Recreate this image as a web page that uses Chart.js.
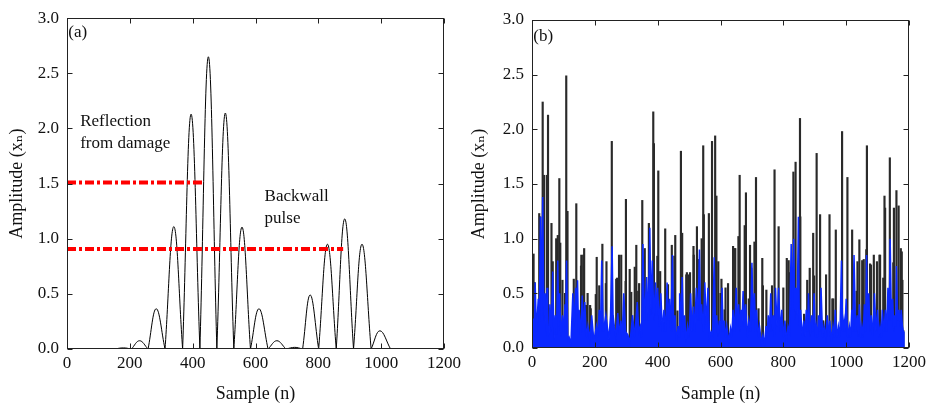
<!DOCTYPE html>
<html>
<head>
<meta charset="utf-8">
<script src="https://cdn.jsdelivr.net/npm/chart.js@4.4.1/dist/chart.umd.min.js"></script>
<style>
html, body { margin: 0; padding: 0; background: #fff; }
#wrap { position: relative; width: 930px; height: 405px; }
.panel { position: absolute; top: 0; width: 465px; height: 405px; }
#pa { left: 0; }
#pb { left: 465px; }
</style>
</head>
<body>
<div id="wrap">
  <div class="panel" id="pa"><canvas id="chartA" width="465" height="405"></canvas></div>
  <div class="panel" id="pb"><canvas id="chartB" width="465" height="405"></canvas></div>
</div>
<script>
// --- PANEL (a): pulse echo, one lobe per peak, zero crossings between ---
const pulseZeroX = [150, 205, 258, 312, 368, 423, 477, 531, 584, 640, 697, 750, 801, 857, 912, 968, 1030];
const pulsePeakX = [180, 231, 284, 340, 395, 450, 504, 557, 611, 668, 725, 774, 829, 884, 939, 996];
const pulsePeakY = [0.01, 0.075, 0.365, 1.11, 2.13, 2.65, 2.14, 1.105, 0.365, 0.075, 0.015, 0.49, 0.95, 1.18, 0.95, 0.165];

// red threshold lines (level, end sample)
const damageLine = { y: 1.51, xEnd: 431 };
const backwallLine = { y: 0.907, xEnd: 879 };

// --- PANEL (b): spikes (black) and filtered signal (blue) ---
const spikeX = [5, 8, 23, 26, 34, 39, 48, 51, 62, 66, 82, 87, 97, 105, 109, 113, 141, 157, 166, 177,
  187, 206, 224, 235, 254, 271, 277, 284, 299, 316, 327, 341, 351, 372, 386, 388, 402, 408, 424, 445,
  456, 474, 478, 491, 499, 514, 525, 545, 547, 563, 573, 583, 587, 600, 613, 624, 640, 645, 657, 661,
  681, 694, 713, 733, 746, 772, 785, 817, 832, 839, 853, 854, 876, 895, 906, 917, 936, 947, 959, 967,
  987, 1004, 1019, 1036, 1051, 1066, 1076, 1088, 1106, 1122, 1124, 1139, 1152, 1160, 1167, 1174, 1179, 1182,
  77, 90, 133, 156, 163, 172, 185, 203, 214, 237, 268, 298, 311, 332, 338, 359, 382, 399, 433, 453,
  463, 493, 503, 515, 528, 540, 593, 603, 616, 647, 677, 690, 698, 708, 721, 735, 764, 800, 811, 819,
  866, 884, 898, 927, 956, 1033, 1042, 1056, 1064, 1079, 1098, 1108, 1118, 1150, 1177];
const spikeY = [0.86, 0.6, 1.23, 1.2, 2.25, 1.58, 1.58, 2.13, 1.14, 0.79, 1.03, 1.55, 0.62, 0.5, 2.49, 1.25, 1.32, 0.85, 0.91, 0.5,
  0.36, 0.83, 0.95, 0.59, 1.89, 0.64, 0.85, 0.85, 1.36, 0.51, 0.74, 0.59, 1.35, 1.14, 2.16, 1.87, 1.62, 0.7, 1.09, 0.94,
  1.03, 1.8, 1.05, 0.67, 0.67, 0.93, 1.11, 1.85, 1.22, 1.23, 1.89, 1.94, 1.39, 0.5, 0.35, 0.59, 0.93, 0.91, 1.02, 1.58,
  1.42, 0.94, 1.56, 0.82, 0.53, 1.63, 1.11, 0.8, 1.61, 1.7, 2.1, 1.2, 0.62, 1.05, 1.78, 1.22, 0.67, 1.22, 0.45, 1.08,
  1.98, 1.56, 1.08, 0.79, 0.8, 1.85, 0.77, 0.85, 0.85, 1.39, 1.28, 1.74, 1.28, 1.44, 1.3, 0.91, 0.62, 0.16,
  1.0, 0.96, 0.63, 0.75, 0.85, 0.39, 0.39, 0.49, 0.57, 0.79, 0.63, 0.61, 0.72, 0.94, 0.52, 0.91, 0.64, 0.84, 0.58, 0.84,
  0.34, 0.69, 0.69, 0.85, 0.81, 1.0, 0.79, 0.63, 0.55, 0.91, 1.12, 0.45, 0.73, 0.97, 0.36, 0.57, 0.57, 0.55, 0.82, 0.69,
  0.31, 0.73, 0.66, 0.25, 0.45, 0.52, 0.99, 0.81, 0.9, 0.76, 0.79, 0.85, 0.64, 0.78, 0.88];

const filteredX = [0, 5, 7, 10, 14, 20, 23, 27, 30, 34, 38, 42, 45, 48, 50, 52, 54, 57, 61, 66, 70, 74, 78, 82, 85, 88, 92, 97, 101, 105,
  107, 110, 114, 118, 124, 130, 134, 139, 142, 145, 148, 150, 155, 160, 164, 168, 173, 178, 184, 190, 197, 205, 209, 214, 218, 222, 227, 235, 245, 250,
  255, 258, 262, 267, 273, 278, 283, 287, 292, 298, 305, 312, 320, 327, 335, 340, 345, 349, 353, 358, 365, 370, 375, 379, 383, 388, 393, 396, 400, 405,
  410, 415, 420, 425, 430, 434, 438, 442, 447, 451, 455, 460, 465, 468, 470, 474, 478, 482, 486, 490, 495, 500, 505, 509, 514, 518, 523, 528, 533, 537,
  540, 545, 550, 555, 560, 565, 570, 575, 580, 584, 588, 592, 596, 600, 605, 608, 612, 616, 620, 626, 632, 636, 640, 645, 650, 654, 658, 662, 665, 668,
  672, 676, 680, 685, 690, 695, 700, 704, 708, 712, 715, 720, 724, 730, 735, 740, 745, 748, 752, 756, 760, 764, 768, 772, 775, 780, 785, 790, 795, 800,
  805, 810, 815, 820, 825, 829, 833, 837, 840, 844, 848, 851, 855, 860, 865, 869, 873, 877, 880, 885, 890, 894, 898, 902, 905, 909, 912, 916, 920, 925,
  930, 935, 940, 944, 948, 953, 958, 962, 965, 970, 975, 980, 985, 989, 993, 996, 1000, 1005, 1010, 1014, 1018, 1021, 1025, 1030, 1035, 1038, 1042, 1046, 1050, 1054,
  1058, 1062, 1065, 1068, 1072, 1076, 1080, 1085, 1090, 1095, 1100, 1104, 1108, 1112, 1115, 1120, 1125, 1129, 1133, 1137, 1140, 1144, 1148, 1152, 1155, 1158, 1160, 1164, 1168, 1172,
  1175, 1179, 1182, 1184];
const filteredY = [0.15, 0.27, 0.1, 0.6, 0.15, 0.45, 0.2, 1.2, 0.3, 1.38, 0.25, 0.5, 0.15, 0.55, 0.1, 0.2, 0.12, 0.4, 0.15, 0.7, 0.08, 0.3, 0.12, 0.8, 0.2, 0.5, 0.1, 0.3, 0.15, 0.4,
  0.2, 0.8, 0.08, 0.1, 0.04, 0.5, 0.2, 0.55, 0.3, 0.62, 0.15, 0.35, 0.12, 0.48, 0.15, 0.42, 0.1, 0.2, 0.08, 0.3, 0.06, 0.2, 0.1, 0.35, 0.15, 0.8, 0.15, 0.3, 0.08, 0.3,
  0.93, 0.3, 0.2, 0.1, 0.32, 0.12, 0.25, 0.08, 0.5, 0.15, 0.12, 0.05, 0.3, 0.1, 0.42, 0.15, 0.2, 0.1, 0.95, 0.25, 0.65, 0.25, 1.1, 0.3, 0.8, 0.25, 0.6, 0.3, 0.55, 0.2,
  0.5, 0.15, 0.35, 0.15, 0.6, 0.25, 0.45, 0.15, 0.85, 0.15, 0.3, 0.06, 0.2, 0.1, 0.5, 0.2, 0.65, 0.15, 0.3, 0.05, 0.2, 0.1, 0.5, 0.15, 0.38, 0.15, 0.55, 0.25, 0.9, 0.25,
  0.4, 0.15, 0.6, 0.2, 0.55, 0.1, 0.15, 0.12, 0.83, 0.2, 0.3, 0.1, 0.25, 0.15, 0.55, 0.15, 0.25, 0.1, 0.2, 0.06, 0.18, 0.1, 0.35, 0.15, 0.55, 0.2, 0.4, 0.15, 0.35, 0.2,
  0.52, 0.2, 0.4, 0.1, 0.25, 0.15, 0.78, 0.25, 0.5, 0.15, 0.35, 0.1, 0.2, 0.05, 0.12, 0.04, 0.2, 0.1, 0.3, 0.15, 0.5, 0.15, 0.3, 0.1, 0.55, 0.2, 0.55, 0.15, 0.35, 0.1,
  0.25, 0.06, 0.2, 0.15, 0.95, 0.35, 1.0, 0.25, 0.55, 0.3, 1.2, 0.2, 0.35, 0.1, 0.25, 0.1, 0.35, 0.15, 0.5, 0.1, 0.3, 0.15, 0.5, 0.1, 0.2, 0.1, 0.3, 0.15, 0.55, 0.1,
  0.2, 0.1, 0.3, 0.1, 0.25, 0.06, 0.2, 0.1, 0.35, 0.1, 0.2, 0.1, 0.8, 0.15, 0.25, 0.15, 0.45, 0.1, 0.2, 0.1, 0.35, 0.15, 0.85, 0.15, 0.3, 0.1, 0.4, 0.1, 0.2, 0.1,
  0.4, 0.15, 0.85, 0.25, 0.5, 0.15, 0.3, 0.1, 0.5, 0.15, 0.35, 0.1, 0.2, 0.1, 0.35, 0.15, 0.35, 0.15, 0.55, 0.25, 1.0, 0.25, 0.45, 0.15, 0.3, 0.2, 0.75, 0.25, 0.35, 0.2,
  0.35, 0.2, 0.15, 0];

const xTicks = [0, 200, 400, 600, 800, 1000, 1200];
const yTicks = [0, 0.5, 1.0, 1.5, 2.0, 2.5, 3.0];

// --- STYLE ---
const serif = '"Liberation Serif", "DejaVu Serif", "Times New Roman", serif';
const ink = '#111';
Chart.defaults.font.family = serif;
Chart.defaults.font.size = 17;
Chart.defaults.color = ink;
Chart.defaults.animation = false;

// build the (a) curve: lobes separated by gaps so the zero crossings stay sharp
function buildPulse() {
  const pts = [{x: 0, y: 0}, {x: pulseZeroX[0], y: 0}];
  for (let i = 0; i < pulsePeakX.length; i++) {
    pts.push({x: pulseZeroX[i], y: null});
    pts.push({x: pulseZeroX[i], y: 0});
    pts.push({x: pulsePeakX[i], y: pulsePeakY[i]});
    pts.push({x: pulseZeroX[i + 1], y: 0});
  }
  const last = pulseZeroX[pulseZeroX.length - 1];
  pts.push({x: last, y: null}, {x: last, y: 0}, {x: 1200, y: 0});
  return pts;
}

// boxed frame with inward ticks on all four sides
const framePlugin = {
  id: 'frame',
  afterDatasetsDraw(chart) {
    const {ctx, chartArea: a, scales: {x, y}} = chart;
    const L = Math.round(a.left) + 0.5, R = Math.round(a.right) - 0.5;
    const T = Math.round(a.top) + 0.5, B = Math.round(a.bottom) - 0.5;
    const len = 5;
    ctx.save();
    ctx.strokeStyle = '#222';
    ctx.lineWidth = 1;
    ctx.strokeRect(L, T, R - L, B - T);
    ctx.beginPath();
    xTicks.forEach(v => {
      const px = Math.round(x.getPixelForValue(v)) + 0.5;
      ctx.moveTo(px, B); ctx.lineTo(px, B - len);
      ctx.moveTo(px, T); ctx.lineTo(px, T + len);
    });
    yTicks.forEach(v => {
      const py = Math.round(y.getPixelForValue(v)) + 0.5;
      ctx.moveTo(L, py); ctx.lineTo(L + len, py);
      ctx.moveTo(R, py); ctx.lineTo(R - len, py);
    });
    ctx.stroke();
    ctx.restore();
  }
};

// panel letters and annotations
function textPlugin(items) {
  return {
    id: 'notes',
    afterDraw(chart) {
      const {ctx, scales: {x, y}} = chart;
      ctx.save();
      ctx.fillStyle = ink;
      ctx.font = '17px ' + serif;
      ctx.textBaseline = 'middle';
      ctx.textAlign = 'left';
      items.forEach(t => ctx.fillText(t.text, x.getPixelForValue(t.x), y.getPixelForValue(t.y)));
      ctx.restore();
    }
  };
}

function scalesFor(axisWidth, axisHeight, titlePad) {
  return {
    x: {
      type: 'linear', min: 0, max: 1200, offset: false,
      grid: {display: false, drawTicks: false}, border: {display: false},
      ticks: {stepSize: 200, padding: 4, maxRotation: 0, autoSkip: false, callback: v => String(v)},
      title: {display: true, text: 'Sample (n)', font: {size: 18}, padding: {top: 0, bottom: 0}},
      afterFit: s => { s.height = axisHeight; }
    },
    y: {
      type: 'linear', min: 0, max: 3,
      grid: {display: false, drawTicks: false}, border: {display: false},
      ticks: {stepSize: 0.5, padding: 8, callback: v => v.toFixed(1)},
      title: {display: true, text: 'Amplitude (xₙ)', font: {size: 18}, padding: {top: titlePad, bottom: titlePad}},
      afterFit: s => { s.width = axisWidth; }
    }
  };
}

const noLegend = {legend: {display: false}, tooltip: {enabled: false}};

// --- CHART (a) ---
new Chart(document.getElementById('chartA'), {
  type: 'line',
  data: {
    datasets: [
      {
        data: [{x: 0, y: damageLine.y}, {x: damageLine.xEnd, y: damageLine.y}],
        borderColor: '#ff0000', borderWidth: 4, borderDash: [9, 3, 3, 3],
        pointRadius: 0, tension: 0
      },
      {
        data: [{x: 0, y: backwallLine.y}, {x: backwallLine.xEnd, y: backwallLine.y}],
        borderColor: '#ff0000', borderWidth: 4, borderDash: [9, 3, 3, 3],
        pointRadius: 0, tension: 0
      },
      {
        data: buildPulse(),
        borderColor: '#000', borderWidth: 1,
        pointRadius: 0, tension: 0.4, spanGaps: false
      }
    ]
  },
  options: {
    responsive: false,
    layout: {padding: {left: 0, right: 17, top: 17, bottom: 0}},
    plugins: noLegend,
    scales: scalesFor(67, 56, 6)
  },
  plugins: [framePlugin, textPlugin([
    {text: '(a)', x: 4, y: 2.87},
    {text: 'Reflection', x: 42, y: 2.065},
    {text: 'from damage', x: 42, y: 1.867},
    {text: 'Backwall', x: 629, y: 1.379},
    {text: 'pulse', x: 629, y: 1.184}
  ])]
});

// --- CHART (b) ---
new Chart(document.getElementById('chartB'), {
  type: 'bar',
  data: {
    datasets: [
      {
        type: 'line',
        data: filteredX.map((v, i) => ({x: v, y: filteredY[i]})),
        borderColor: '#0a28ff', backgroundColor: '#0a28ff', borderWidth: 1.5,
        fill: 'origin', pointRadius: 0, tension: 0
      },
      {
        type: 'bar',
        data: spikeX.map((v, i) => ({x: v, y: spikeY[i]})),
        backgroundColor: '#2a2a2a', barThickness: 1.5, grouped: false
      }
    ]
  },
  options: {
    responsive: false,
    layout: {padding: {left: 0, right: 18, top: 20, bottom: 0}},
    plugins: noLegend,
    scales: scalesFor(67, 57, 3)
  },
  plugins: [framePlugin, textPlugin([
    {text: '(b)', x: 4, y: 2.85}
  ])]
});
</script>
</body>
</html>
